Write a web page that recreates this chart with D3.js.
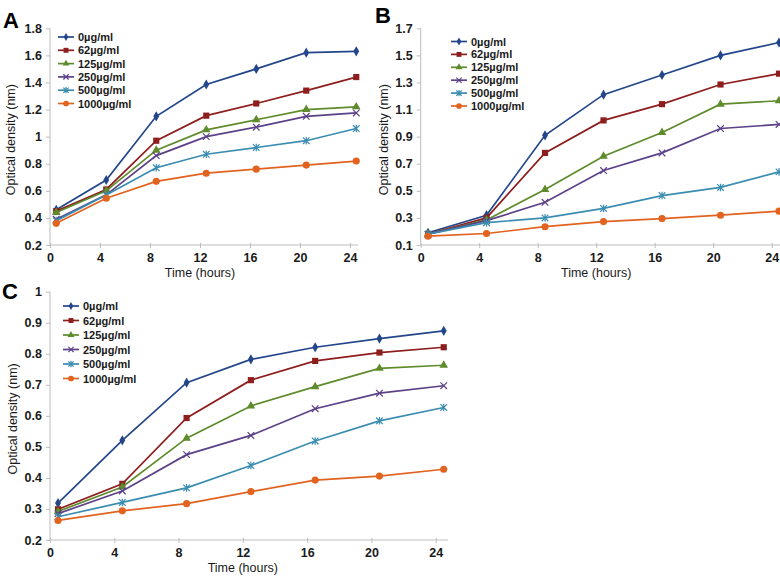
<!DOCTYPE html>
<html><head><meta charset="utf-8">
<script src="https://cdnjs.cloudflare.com/ajax/libs/d3/7.8.5/d3.min.js"></script>
<style>
body{margin:0;background:#fff;}
svg text{font-family:"Liberation Sans",Arial,sans-serif;}
</style></head>
<body><svg id="c" width="780" height="576"></svg>
<script>
const times = [0.5, 4.5, 8.5, 12.5, 16.5, 20.5, 24.5];
const seriesNames = ["0\u00b5g/ml","62\u00b5g/ml","125\u00b5g/ml","250\u00b5g/ml","500\u00b5g/ml","1000\u00b5g/ml"];
const xTicks = [0,4,8,12,16,20,24];

const panelA = [
  [0.46,0.68,1.15,1.385,1.50,1.62,1.63],
  [0.45,0.61,0.97,1.155,1.245,1.34,1.44],
  [0.44,0.60,0.90,1.05,1.125,1.20,1.22],
  [0.39,0.57,0.86,1.00,1.07,1.15,1.175],
  [0.38,0.57,0.77,0.87,0.92,0.97,1.06],
  [0.36,0.545,0.67,0.73,0.76,0.79,0.82]
];
const panelAYTicks = [0.2,0.4,0.6,0.8,1,1.2,1.4,1.6,1.8];

const panelB = [
  [0.19,0.32,0.91,1.21,1.355,1.50,1.595],
  [0.18,0.30,0.78,1.02,1.14,1.285,1.365],
  [0.18,0.285,0.51,0.755,0.93,1.14,1.165],
  [0.18,0.28,0.415,0.65,0.78,0.96,0.99],
  [0.18,0.265,0.30,0.37,0.465,0.525,0.64],
  [0.165,0.185,0.235,0.273,0.295,0.32,0.35]
];
const panelBYTicks = [0.1,0.3,0.5,0.7,0.9,1.1,1.3,1.5,1.7];

const panelC = [
  [0.319,0.521,0.707,0.782,0.821,0.849,0.874],
  [0.299,0.381,0.593,0.715,0.777,0.804,0.821],
  [0.292,0.371,0.528,0.632,0.694,0.753,0.763],
  [0.285,0.358,0.475,0.537,0.623,0.673,0.697],
  [0.275,0.321,0.368,0.44,0.519,0.584,0.627],
  [0.263,0.294,0.317,0.356,0.393,0.406,0.428]
];
const panelCYTicks = [0.2,0.3,0.4,0.5,0.6,0.7,0.8,0.9,1];

const colors = ["#23468B","#8E1D1D","#5E8B2B","#5C4189","#3A8DB0","#E2621F"];
const markers = ["diamond","square","triangle","x","star","circle"];

const svg = d3.select("#c");

function marker(g, type, x, y, color, k){
  k = k || 1;
  const sym = {diamond:[d3.symbolDiamond,30],square:[d3.symbolSquare,38],triangle:[d3.symbolTriangle,32],circle:[d3.symbolCircle,40]};
  if(sym[type]){
    g.append("path").attr("d", d3.symbol(sym[type][0], sym[type][1]*k*k)()).attr("transform",`translate(${x},${y})`).attr("fill",color);
  } else {
    const s=3.3*k;
    let d=`M${x-s},${y-s}L${x+s},${y+s}M${x-s},${y+s}L${x+s},${y-s}`;
    if(type==="star") d+=`M${x},${y-s-0.5}L${x},${y+s+0.5}`;
    g.append("path").attr("d",d).attr("stroke",color).attr("stroke-width",1.2).attr("fill","none");
  }
}

function drawPanel(cfg){
  const x = d3.scaleLinear().domain([0,24]).range([cfg.x0, cfg.x24]);
  const y = d3.scaleLinear().domain([cfg.yTicks[0], cfg.yTicks[cfg.yTicks.length-1]]).range([cfg.yBottom, cfg.yTop]);
  const g = svg.append("g");

  const ya = g.append("g").attr("transform",`translate(${cfg.x0},0)`)
    .call(d3.axisLeft(y).tickValues(cfg.yTicks).tickSize(4).tickPadding(4).tickFormat(d=>d3.format("~g")(d)));
  const xa = g.append("g").attr("transform",`translate(0,${cfg.yBottom})`)
    .call(d3.axisBottom(x).tickValues(xTicks).tickSize(3).tickPadding(5).tickFormat(d3.format("d")));
  xa.select(".domain").attr("d",`M${cfg.x0},0H${cfg.xEnd}`);
  ya.select(".domain").attr("d",`M0,${cfg.yBottom}V${cfg.yTop}`);
  [ya,xa].forEach(a=>{
    a.selectAll(".domain,line").attr("stroke","#BDBDBD").attr("stroke-width",1);
    a.selectAll("text").attr("fill","#1a1a1a").style("font-size","12.5px").style("font-weight","bold");
  });
  xa.selectAll(".tick line").attr("y1",-2).attr("y2",3);

  g.append("text").attr("x",(cfg.x0+cfg.x24)/2).attr("y",cfg.yBottom+32).attr("text-anchor","middle")
    .style("font-size","12.5px").attr("fill","#1a1a1a").text("Time (hours)");
  g.append("text").attr("transform",`translate(${cfg.yTitleX},${(cfg.yTop+cfg.yBottom)/2+3}) rotate(-90)`)
    .attr("text-anchor","middle").style("font-size","12.5px").attr("fill","#1a1a1a").text("Optical density (nm)");

  g.append("text").attr("x",cfg.letterX).attr("y",cfg.letterY).style("font-size","22px").style("font-weight","bold")
    .attr("fill","#000").text(cfg.letter);

  const line = d3.line().x((d,i)=>x(times[i])).y(d=>y(d));
  cfg.data.forEach((vals,si)=>{
    g.append("path").datum(vals).attr("d",line).attr("fill","none").attr("stroke",colors[si]).attr("stroke-width",1.7);
    vals.forEach((v,i)=>marker(g, markers[si], x(times[i]), y(v), colors[si]));
  });

  seriesNames.forEach((n,i)=>{
    const ly = cfg.legY + i*cfg.legStep;
    g.append("line").attr("x1",cfg.legX).attr("x2",cfg.legX+16).attr("y1",ly).attr("y2",ly)
      .attr("stroke",colors[i]).attr("stroke-width",1.7);
    marker(g, markers[i], cfg.legX+8, ly, colors[i], 0.8);
    g.append("text").attr("x",cfg.legX+20).attr("y",ly+4).style("font-size","11px").style("font-weight","bold")
      .attr("fill","#1a1a1a").text(n);
  });
}

drawPanel({data:panelA, yTicks:panelAYTicks, x0:50, x24:350, xEnd:358, yTop:28.3, yBottom:245,
  yTitleX:15, letter:"A", letterX:3, letterY:28, legX:58, legY:37, legStep:13.3});
drawPanel({data:panelB, yTicks:panelBYTicks, x0:420.7, x24:771.7, xEnd:780, yTop:28.3, yBottom:245,
  yTitleX:388, letter:"B", letterX:375, letterY:23, legX:451, legY:41.5, legStep:12.9});
drawPanel({data:panelC, yTicks:panelCYTicks, x0:50, x24:435.7, xEnd:448, yTop:291.7, yBottom:540,
  yTitleX:17, letter:"C", letterX:2, letterY:299, legX:63, legY:306, legStep:14.5});
</script></body></html>
